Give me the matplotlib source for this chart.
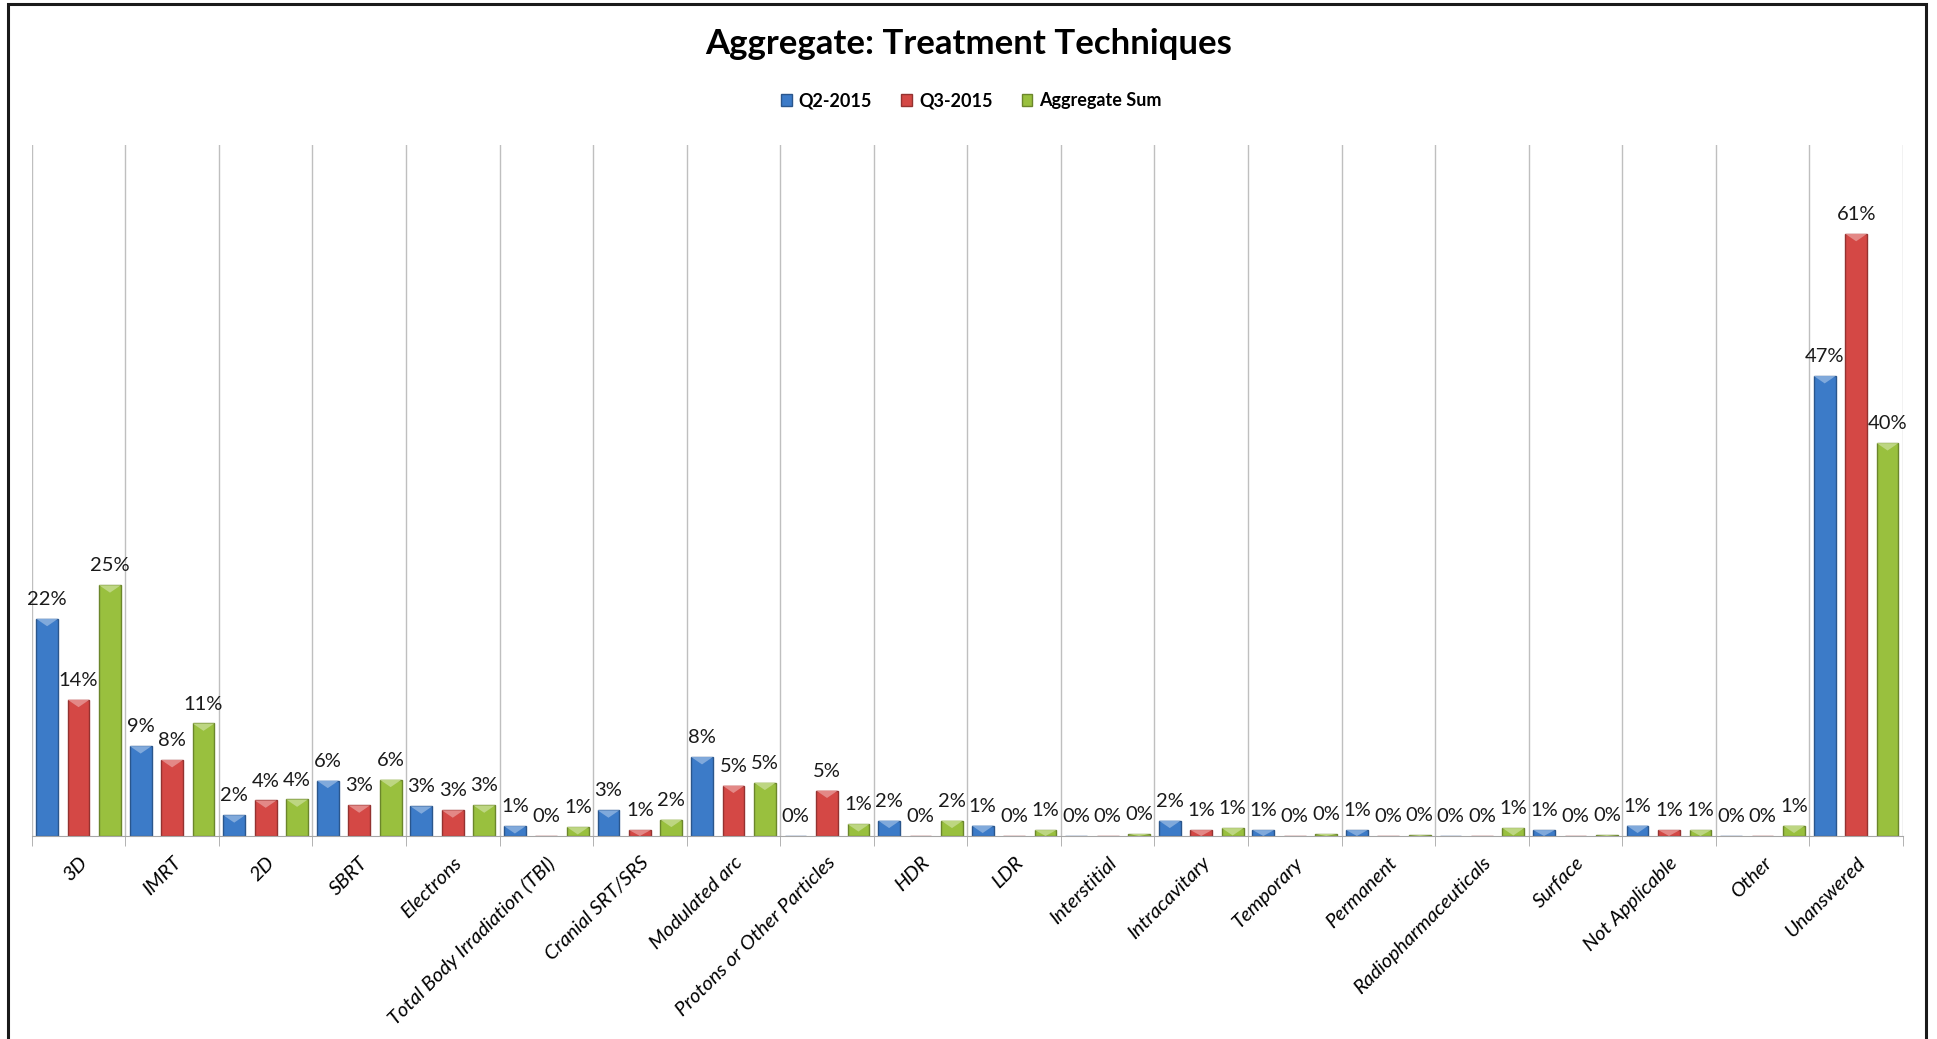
import numpy as np
import matplotlib
matplotlib.use("Agg")
import matplotlib.pyplot as plt
from matplotlib.patches import Rectangle, Polygon
from matplotlib.colors import to_rgb

# treatment technique shares in percent
techniques = ["3D", "IMRT", "2D", "SBRT", "Electrons",
              "Total Body Irradiation (TBI)", "Cranial SRT/SRS", "Modulated arc",
              "Protons or Other Particles", "HDR", "LDR", "Interstitial",
              "Intracavitary", "Temporary", "Permanent", "Radiopharmaceuticals",
              "Surface", "Not Applicable", "Other", "Unanswered"]
q2_2015 = [22.0, 9.1, 2.1, 5.6, 3.0, 1.0, 2.6, 8.0, 0.0, 1.55,
           1.05, 0.0, 1.55, 0.6, 0.6, 0.0, 0.6, 1.05, 0.0, 46.6]
q3_2015 = [13.8, 7.7, 3.6, 3.1, 2.6, 0.0, 0.6, 5.1, 4.6, 0.0,
           0.0, 0.0, 0.6, 0.0, 0.0, 0.0, 0.0, 0.6, 0.0, 61.0]
agg_sum = [25.4, 11.4, 3.7, 5.7, 3.1, 0.9, 1.65, 5.4, 1.2, 1.55,
           0.6, 0.2, 0.8, 0.2, 0.1, 0.8, 0.1, 0.6, 1.05, 39.8]

series = [("Q2-2015", q2_2015, "#3c7bc8"),
          ("Q3-2015", q3_2015, "#d44845"),
          ("Aggregate Sum", agg_sum, "#99c03e")]

plt.rcParams['font.family'] = ['Lato', 'DejaVu Sans']

fig = plt.figure(figsize=(19.37, 10.39), dpi=100)
ax = fig.add_axes([0.0164, 0.1954, 0.9660, 0.6650])

n = len(techniques)
x = np.arange(n) + 0.5
bw = 0.232
step = 0.336
ymax = 70.0
cap = 0.75  # height of the lighter bevel on top of each bar

def shade(c, f):
    r, g, b = to_rgb(c)
    if f > 1:
        return (r + (1 - r) * (f - 1), g + (1 - g) * (f - 1), b + (1 - b) * (f - 1))
    return (r * f, g * f, b * f)

handles = []
for k, (name, vals, col) in enumerate(series):
    xs = x + (k - 1) * step
    bars = ax.bar(xs, vals, width=bw, color=col, edgecolor=shade(col, 0.7),
                  linewidth=1.0, zorder=3, label=name)
    handles.append(bars)
    for xi, v in zip(xs, vals):
        if v > 0:
            h = min(cap, v)
            ax.add_patch(Polygon([(xi - bw / 2, v), (xi + bw / 2, v), (xi, v - h)],
                                 closed=True, facecolor=shade(col, 1.35),
                                 edgecolor='none', zorder=4))
        ax.annotate("%d%%" % round(v), (xi, v), xytext=(0, 10),
                    textcoords='offset points', ha='center', va='baseline',
                    fontsize=14.5, color='#1a1a1a')

ax.set_xlim(0, n)
ax.set_ylim(0, ymax)
ax.set_yticks([])
ax.set_xticks(x)
ax.set_xticklabels(techniques, rotation=45, ha='right', rotation_mode='anchor',
                   fontsize=14.5, style='italic')
ax.set_xticks(np.arange(n + 1), minor=True)
ax.tick_params(axis='x', which='major', length=0, pad=13)
ax.tick_params(axis='x', which='minor', length=7, color='#a6a6a6')
ax.grid(True, axis='x', which='minor', color='#bfbfbf', linewidth=1.0, zorder=0)
for s in ['top', 'left', 'right']:
    ax.spines[s].set_visible(False)
ax.spines['bottom'].set_color('#a6a6a6')
ax.spines['bottom'].set_zorder(5)

fig.suptitle("Aggregate: Treatment Techniques", x=0.5, y=0.958, va='center',
             fontsize=25, fontweight='bold')
fig.legend(handles=handles, loc='center', bbox_to_anchor=(0.5015, 0.903), ncol=3,
           frameon=False, prop={'weight': 'bold', 'size': 13},
           handlelength=0.6, handleheight=0.6, handletextpad=0.4,
           columnspacing=1.6)

# outer frame of the chart
fig.patches.append(Rectangle((0.0042, -0.05), 0.9902, 1.046, transform=fig.transFigure,
                             fill=False, edgecolor='#1a1a1a', linewidth=2.2))

fig.savefig("out.png", dpi=100)
